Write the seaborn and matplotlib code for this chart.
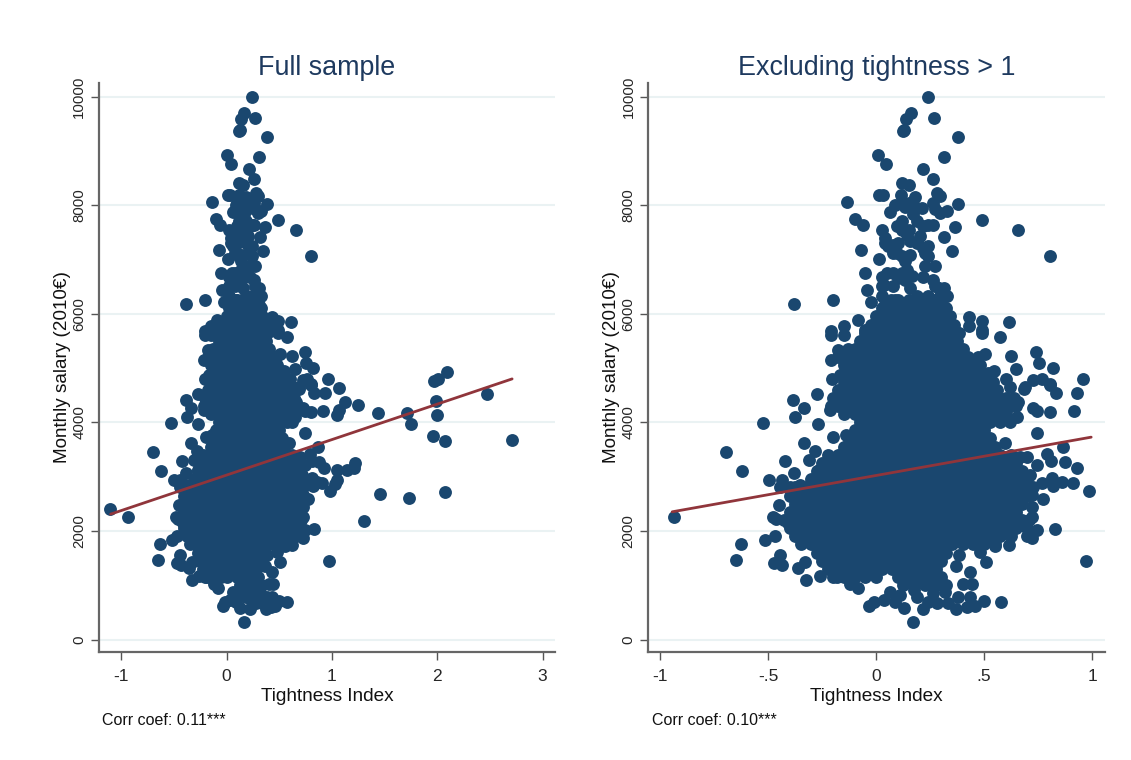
import pandas as pd
import seaborn as sns
import matplotlib
matplotlib.use("Agg")
import matplotlib.pyplot as plt

# scattered points
edge_x = [.242,.162,.139,.27,.13,.123,.381,.008,.045,.312,.216,.261,.119,.154,.015,.031,.116,.284,.296,.181,-.136,.381,.119,.211,.134,.273,.327,.296,.065,.17,
          -.097,-.062,.489,.119,.096,.219,.265,.15,.026,.366,.659,.316,.042,.204,.103,.157,.057,-.071,.35,.08,.219,.242,.157,.011,.806,.273,.134,.227,.142,-.054,
          .026,.08,.119,.165,.219,.265,.026,.08,.157,.273,.312,-.043,.327,.026,-.2,-.38,-.025,.304,.432,.489,.432,.616,.489,.489,.384,.574,-.086,-.151,-.208,-.208,
          -.151,-.051,.343,.505,.623,.741,.756,.648,.821,.546,-.21,-.179,-.205,-.167,.435,.602,.96,.767,.728,.69,.806,.932,.833,.806,.685,.62,-.272,-.383,-.333,-.375,
          -.525,-.269,-.198,-.139,-.213,-.19,.659,.728,.744,.806,.918,.651,.744,-.694,-.623,-.336,-.282,-.313,-.424,-.38,-.267,-.498,-.437,-.444,-.352,-.383,-.452,-.48,-.465,-.938,
          -.41,-.468,-.514,-.627,-.648,-.444,-.472,-.435,-.36,-.329,-.326,-.259,-.182,-.12,-.082,-.031,-.012,.034,.065,.111,.088,.13,.17,.219,.242,.281,.319,.335,.37,.381,
          .42,.458,.435,.5,.577,.188,.265,.173,.281,.204,.401,.443,.435,.369,.384,.481,.508,.829,.747,.721,.617,.551,.721,.721,.775,.721,.767,.813,.818,.86,
          .91,.986,.929,.875,.809,.79,.867,.747,.698,.667,.713,.971,.597,.528,
          .142,.188,.242,.227,.096,.119,.042,.08,.134,.103,.049,.034,.289,.296,.242,.188,.088,.134,.235,.265,.034,.065,.119,.188,.242,.265,.088,.15,.181]
edge_salary = [10000,9693,9583,9613,9387,9362,9264,8926,8761,8883,8663,8491,8405,8368,8178,8190,8184,8233,8160,8147,8067,8025,8037,7945,7975,7926,7896,7853,7865,7840,
               7742,7626,7730,7700,7607,7607,7638,7546,7546,7589,7540,7411,7393,7423,7300,7331,7251,7178,7153,7116,7208,7055,7086,7006,7055,6883,6963,6871,6810,6748,
               6675,6748,6748,6687,6675,6626,6503,6515,6472,6503,6472,6429,6331,6319,6258,6178,6209,6165,5932,5859,5767,5853,5706,5644,5644,5571,5889,5779,5675,5613,
               5613,5705,5828,5258,5227,5300,5100,4981,5006,4939,5141,5325,4804,4878,5153,4804,4804,4804,4773,4650,4699,4534,4534,4687,4607,4656,4521,4411,4258,4092,
               3994,3963,3736,3767,4227,4350,4380,4258,4215,4184,4202,4104,3798,3454,3104,3613,3472,3307,3282,3074,3123,2939,2939,2816,2847,2785,2472,2252,2215,2252,
               2141,1914,1834,1755,1466,1558,1417,1374,1325,1435,1098,1172,1147,1024,957,620,700,730,883,822,700,577,319,558,700,669,883,669,558,791,
               607,620,791,718,687,791,853,914,1110,1098,1024,1024,1252,1356,1558,1607,1423,2037,2018,1865,1742,1730,2264,2448,2583,2663,2877,2969,2828,2908,
               2877,2742,3153,3276,3288,3417,3540,3215,3368,3368,3031,1448,3626,3705,
               7454,7301,7239,7117,7117,7055,7301,7270,6626,6656,6748,6534,6472,6319,6319,6319,6258,6196,6196,6258,6135,6196,7546,7700,7638,8037,8006,8037,7975]

# occupations with tightness outside +-1, only in the full sample
high_x = [1.965,2.01,2.09,1.12,1.247,1.047,1.063,1.437,1.712,1.75,1.99,2.0,2.47,1.96,2.07,2.71,1.215,1.206,1.142,1.047,1.053,1.03,1.453,1.728,2.07,1.30,1.063,-1.104]
high_salary = [4755,4800,4920,4380,4319,4135,4227,4165,4165,3963,4399,4141,4515,3748,3663,3675,3258,3153,3123,3123,2939,2865,2687,2613,2724,2190,4626,2405]

# dense middle of the cloud, one list per salary level
t_6250 = [.07,.10,.15,.20,.25,.30]
t_6100 = [.025,.075,.125,.175,.225,.275,.325]
t_5950 = [0,.05,.10,.15,.20,.25,.30,.34]
t_5800 = [-.025,.025,.075,.125,.175,.225,.275,.325,.36]
t_5650 = [-.05,0,.05,.10,.15,.20,.25,.30,.35,.38]
t_5500 = [-.075,-.025,.025,.075,.125,.175,.225,.275,.325,.375]
t_5350 = [-.13,-.10,-.05,0,.05,.10,.15,.20,.25,.30,.35,.40]
t_5200 = [-.175,-.125,-.075,-.025,.025,.075,.125,.175,.225,.275,.325,.375,.425,.47]
t_5050 = [-.15,-.10,-.05,0,.05,.10,.15,.20,.25,.30,.35,.40,.45,.48]
t_4900 = [-.125,-.075,-.025,.025,.075,.125,.175,.225,.275,.325,.375,.425,.475,.52]
t_4750 = [-.15,-.10,-.05,0,.05,.10,.15,.20,.25,.30,.35,.40,.45,.50,.54]
t_4600 = [-.175,-.125,-.075,-.025,.025,.075,.125,.175,.225,.275,.325,.375,.425,.475,.525,.56]
t_4450 = [-.20,-.15,-.10,-.05,0,.05,.10,.15,.20,.25,.30,.35,.40,.45,.50,.55,.60,.64]
t_4300 = [-.21,-.175,-.125,-.075,-.025,.025,.075,.125,.175,.225,.275,.325,.375,.425,.475,.525,.575,.625,.65]
t_4150 = [-.15,-.10,-.05,0,.05,.10,.15,.20,.25,.30,.35,.40,.45,.50,.55,.60]
t_4000 = [-.075,-.025,.025,.075,.125,.175,.225,.275,.325,.375,.425,.475,.525,.575,.62]
t_3850 = [-.10,-.05,0,.05,.10,.15,.20,.25,.30,.35,.40,.45,.50]
t_3700 = [-.125,-.075,-.025,.025,.075,.125,.175,.225,.275,.325,.375,.425,.475,.52]
t_3550 = [-.15,-.10,-.05,0,.05,.10,.15,.20,.25,.30,.35,.40,.45,.50,.55]
t_3400 = [-.225,-.175,-.125,-.075,-.025,.025,.075,.125,.175,.225,.275,.325,.375,.425,.475,.525,.575,.625]
t_3250 = [-.25,-.20,-.15,-.10,-.05,0,.05,.10,.15,.20,.25,.30,.35,.40,.45,.50,.55,.60,.65]
t_3100 = [-.275,-.225,-.175,-.125,-.075,-.025,.025,.075,.125,.175,.225,.275,.325,.375,.425,.475,.525,.575,.625,.675]
t_2950 = [-.30,-.25,-.20,-.15,-.10,-.05,0,.05,.10,.15,.20,.25,.30,.35,.40,.45,.50,.55,.60,.65,.70]
t_2800 = [-.40,-.375,-.325,-.275,-.225,-.175,-.125,-.075,-.025,.025,.075,.125,.175,.225,.275,.325,.375,.425,.475,.525,.575,.625,.675,.725]
t_2650 = [-.40,-.35,-.30,-.25,-.20,-.15,-.10,-.05,0,.05,.10,.15,.20,.25,.30,.35,.40,.45,.50,.55,.60,.65,.70]
t_2500 = [-.375,-.325,-.275,-.225,-.175,-.125,-.075,-.025,.025,.075,.125,.175,.225,.275,.325,.375,.425,.475,.525,.575,.625,.675]
t_2350 = [-.40,-.35,-.30,-.25,-.20,-.15,-.10,-.05,0,.05,.10,.15,.20,.25,.30,.35,.40,.45,.50,.55,.60,.65]
t_2200 = [-.425,-.375,-.325,-.275,-.225,-.175,-.125,-.075,-.025,.025,.075,.125,.175,.225,.275,.325,.375,.425,.475,.525,.575,.625,.675,.71]
t_2050 = [-.40,-.35,-.30,-.25,-.20,-.15,-.10,-.05,0,.05,.10,.15,.20,.25,.30,.35,.40,.45,.50,.55,.60,.65,.70]
t_1900 = [-.375,-.325,-.275,-.225,-.175,-.125,-.075,-.025,.025,.075,.125,.175,.225,.275,.325,.375,.425,.475,.525,.575,.625,.70]
t_1750 = [-.35,-.30,-.25,-.20,-.15,-.10,-.05,0,.05,.10,.15,.20,.25,.30,.35,.40,.45,.50,.55]
t_1600 = [-.275,-.225,-.175,-.125,-.075,-.025,.025,.075,.125,.175,.225,.275,.325]
t_1450 = [-.25,-.20,-.15,-.10,-.05,0,.05,.10,.15,.20,.25,.30]
t_1300 = [-.225,-.175,-.125,-.075,-.025,.025,.075,.125,.175,.225,.275]
t_1150 = [-.20,-.15,-.10,-.05,0,.10,.15,.20,.25,.30]
t_1000 = [.125,.175,.225,.275,.325]

core_levels = [6250,6100,5950,5800,5650,5500,5350,5200,5050,4900,4750,4600,4450,4300,4150,4000,3850,3700,
               3550,3400,3250,3100,2950,2800,2650,2500,2350,2200,2050,1900,1750,1600,1450,1300,1150,1000]
core_lists = [t_6250,t_6100,t_5950,t_5800,t_5650,t_5500,t_5350,t_5200,t_5050,t_4900,t_4750,t_4600,t_4450,t_4300,t_4150,t_4000,t_3850,t_3700,
              t_3550,t_3400,t_3250,t_3100,t_2950,t_2800,t_2650,t_2500,t_2350,t_2200,t_2050,t_1900,t_1750,t_1600,t_1450,t_1300,t_1150,t_1000]

# fitted lines, ends
fit_full_x = [-1.10, 2.71]
fit_full_y = [2309, 4800]
fit_excl_x = [-.945, .996]
fit_excl_y = [2352, 3727]

panel_titles = ["Full sample", "Excluding tightness > 1"]
corr_labels = ["Corr coef: 0.11***", "Corr coef: 0.10***"]
salary_ticks = [0, 2000, 4000, 6000, 8000, 10000]
full_ticks = [-1, 0, 1, 2, 3]
full_ticklabels = ["-1", "0", "1", "2", "3"]
excl_ticks = [-1, -.5, 0, .5, 1]
excl_ticklabels = ["-1", "-.5", "0", ".5", "1"]

navy = "#1a476f"
maroon = "#90353b"
grid_col = "#eaf2f3"

rows = list(zip(edge_x, edge_salary)) + list(zip(high_x, high_salary))
for level, xs in zip(core_levels, core_lists):
    rows += [(x, level) for x in xs]
df = pd.DataFrame(rows, columns=["tightness", "salary"])

sns.set_theme(style="white")
plt.rcParams["font.family"] = ["Liberation Sans", "DejaVu Sans"]

W, H = 1131, 760
fig = plt.figure(figsize=(W / 100, H / 100), dpi=100, facecolor="white")
ax1 = fig.add_axes([98.7 / W, (H - 652) / H, (555 - 98.7) / W, (652 - 83) / H])
ax2 = fig.add_axes([648 / W, (H - 652) / H, (1105 - 648) / W, (652 - 83) / H])

panels = [
    (ax1, df, fit_full_x, fit_full_y, full_ticks, full_ticklabels, (-1.213, 3.117)),
    (ax2, df[df["tightness"].abs() <= 1], fit_excl_x, fit_excl_y, excl_ticks, excl_ticklabels, (-1.057, 1.06)),
]

for i, (ax, d, fx, fy, ticks, labels, xlim) in enumerate(panels):
    sns.scatterplot(data=d, x="tightness", y="salary", s=86, color=navy, linewidth=0, ax=ax, zorder=3)
    sns.lineplot(x=fx, y=fy, color=maroon, linewidth=2, ax=ax, zorder=4, errorbar=None)

    ax.set_xlim(xlim)
    ax.set_ylim(-230, 10250)
    ax.set_xticks(ticks)
    ax.set_xticklabels(labels, fontsize=12.5)
    ax.set_yticks(salary_ticks)
    ax.set_yticklabels([str(v) for v in salary_ticks], fontsize=10.8, rotation=90, va="center")
    ax.tick_params(axis="x", length=6, width=1, color="#555555", bottom=True, pad=6)
    ax.tick_params(axis="y", length=6, width=1, color="#555555", left=True, pad=3)
    ax.grid(axis="y", color=grid_col, linewidth=1.5)
    ax.set_axisbelow(True)

    sns.despine(ax=ax)
    ax.spines["left"].set_color("#666666")
    ax.spines["bottom"].set_color("#666666")
    ax.spines["left"].set_linewidth(1.6)
    ax.spines["bottom"].set_linewidth(1.6)

    ax.set_xlabel("Tightness Index", fontsize=13.7, labelpad=3, color="#111111")
    ax.set_ylabel("Monthly salary (2010€)", fontsize=13.6, labelpad=1, color="#111111")
    ax.set_title(panel_titles[i], fontsize=19.4, color="#1e3a5f", pad=6)

fig.text(101.7 / W, (H - 720.7) / H, corr_labels[0], fontsize=11.5, color="#111111", va="center")
fig.text(651.7 / W, (H - 720.7) / H, corr_labels[1], fontsize=11.5, color="#111111", va="center")

fig.savefig("out.png", dpi=100)
